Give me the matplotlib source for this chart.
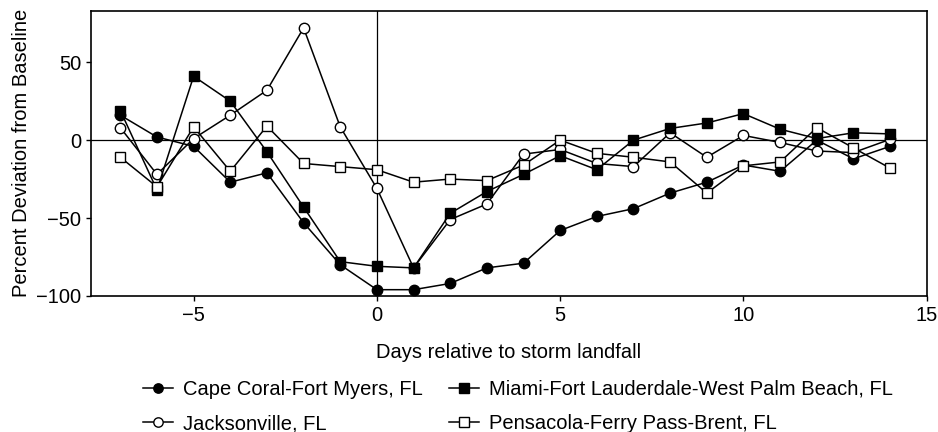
import matplotlib
matplotlib.use('Agg')
import matplotlib.pyplot as plt

plt.rcParams['font.family'] = ['Liberation Sans', 'DejaVu Sans']

days = list(range(-7, 15))

cape_coral = [16, 2, -4, -27, -21, -53, -80, -96, -96, -92, -82,
              -79, -58, -49, -44, -34, -27, -16, -20, 0, -12, -4]
jacksonville = [8, -22, 1, 16, 32, 72, 8.5, -31, -82, -51, -41,
                -9, -6, -15, -17, 4.7, -11, 3, -1.5, -7, -8, 0.5]
miami = [19, -32, 41, 25, -7.5, -43, -78, -81, -82, -47, -33,
         -22, -10, -19, 0, 7.5, 11, 17, 7, 1, 4.7, 4]
pensacola = [-11, -30, 8.5, -20, 9, -15, -17, -19, -27, -25, -26,
             -16, 0, -8.5, -11, -14, -34, -16.5, -14, 8, -5, -18]

labels = ['Cape Coral-Fort Myers, FL', 'Jacksonville, FL',
          'Miami-Fort Lauderdale-West Palm Beach, FL', 'Pensacola-Ferry Pass-Brent, FL']

fs = 14.5

fig = plt.figure(figsize=(9.38, 4.32), dpi=100)
ax = fig.add_axes([0.097, 0.315, 0.891, 0.66])

ax.axhline(0, color='black', lw=0.9, zorder=1)
ax.axvline(0, color='black', lw=0.9, zorder=1)

style = dict(color='black', lw=1.1, markersize=7.5, markeredgewidth=1.0,
             markeredgecolor='black')
ax.plot(days, cape_coral, marker='o', markerfacecolor='black', label=labels[0], **style)
ax.plot(days, jacksonville, marker='o', markerfacecolor='white', label=labels[1], **style)
ax.plot(days, miami, marker='s', markerfacecolor='black', label=labels[2], **style)
ax.plot(days, pensacola, marker='s', markerfacecolor='white', label=labels[3], **style)

ax.set_xlim(-7.8, 15)
ax.set_ylim(-100, 83)
ax.set_xticks([-5, 0, 5, 10, 15])
ax.set_yticks([-100, -50, 0, 50])
ax.tick_params(labelsize=fs, length=3.5, width=1)
for s in ax.spines.values():
    s.set_linewidth(1.2)

ax.set_xlabel('Days relative to storm landfall', fontsize=fs, labelpad=13.5)
ax.set_ylabel('Percent Deviation from Baseline', fontsize=fs, labelpad=4)

fig.legend(loc='center', bbox_to_anchor=(0.552, 0.059), ncol=2, frameon=False,
           fontsize=fs, handlelength=1.5, handletextpad=0.5, columnspacing=1.3,
           labelspacing=0.75, markerscale=0.9)

fig.savefig('out.png', dpi=100)
